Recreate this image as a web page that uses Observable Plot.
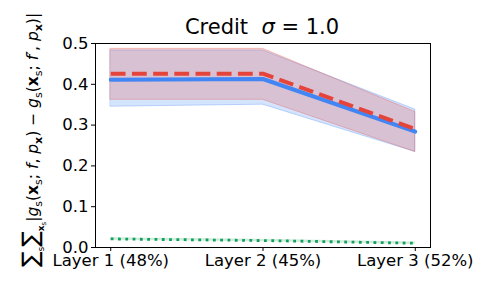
<!DOCTYPE html>
<html><head><meta charset="utf-8">
<script src="https://cdn.jsdelivr.net/npm/d3@7"></script>
<script src="https://cdn.jsdelivr.net/npm/@observablehq/plot@0.6"></script>
<style>body{margin:0;background:#fff}</style>
</head><body><div id="chart"></div>
<script>
const layers = ["Layer 1 (48%)", "Layer 2 (45%)", "Layer 3 (52%)"];
const xIdx = [0, 1, 2];
const blueMean = [0.411, 0.413, 0.284];
const blueLow  = [0.345, 0.350, 0.234];
const blueHigh = [0.483, 0.483, 0.338];
const redMean  = [0.426, 0.426, 0.290];
const redLow   = [0.362, 0.362, 0.234];
const redHigh  = [0.487, 0.487, 0.332];
const greenMean = [0.021, 0.017, 0.0105];
const yTicks = [0, 0.1, 0.2, 0.3, 0.4, 0.5];

const blue = "#4285f4", red = "#e5443a", green = "#12a05a";
const rows = xIdx.map((x, i) => ({x, bm: blueMean[i], bl: blueLow[i], bh: blueHigh[i],
  rm: redMean[i], rl: redLow[i], rh: redHigh[i], g: greenMean[i]}));

const chart = Plot.plot({
  width: 488, height: 293,
  marginLeft: 95, marginRight: 58, marginTop: 43, marginBottom: 46,
  style: {fontFamily: "DejaVu Sans", fontSize: "16.5px", color: "#000", background: "#fff"},
  x: {domain: [-0.1, 2.1], ticks: xIdx, tickFormat: i => layers[i], tickSize: 4, tickPadding: 3, label: null},
  y: {domain: [0, 0.5], ticks: yTicks, tickFormat: d3.format(".1f"), tickSize: 4, tickPadding: 3, label: null},
  marks: [
    Plot.areaY(rows, {x: "x", y1: "bl", y2: "bh", fill: blue, fillOpacity: 0.22, stroke: blue, strokeOpacity: 0.3, strokeWidth: 1}),
    Plot.areaY(rows, {x: "x", y1: "rl", y2: "rh", fill: red, fillOpacity: 0.22, stroke: red, strokeOpacity: 0.3, strokeWidth: 1}),
    Plot.areaY(rows, {x: "x", y1: d => d.g - 0.003, y2: d => d.g + 0.003, fill: green, fillOpacity: 0.2}),
    Plot.line(rows, {x: "x", y: "bm", stroke: blue, strokeWidth: 4}),
    Plot.line(rows, {x: "x", y: "rm", stroke: red, strokeWidth: 4, strokeDasharray: "14.8,6.4", strokeLinecap: "butt"}),
    Plot.line(rows, {x: "x", y: "g", stroke: green, strokeWidth: 2.8, strokeDasharray: "2.8,4.5", strokeLinecap: "butt"}),
    Plot.frame({stroke: "#000", strokeWidth: 1})
  ]
});
document.getElementById("chart").append(chart);

const svg = d3.select(chart);
// Title
const t = svg.append("text").attr("x", 262).attr("y", 34).attr("text-anchor", "middle")
  .attr("font-family", "DejaVu Sans").attr("font-size", 21).attr("fill", "#000");
t.append("tspan").text("Credit  ");
t.append("tspan").attr("font-style", "italic").text("σ");
t.append("tspan").text(" = 1.0");

// Y label
const yl = svg.append("text").attr("transform", "translate(38,267) rotate(-90)")
  .attr("text-anchor", "start").attr("font-family", "DejaVu Sans").attr("font-size", 15.5).attr("fill", "#000");
const parts = [
  ["∑", {size: 23}], ["s", {size: 9, dy: 6}],
  ["∑", {size: 23, dy: -6}], ["x", {size: 9, dy: 6, bold: 1}], ["s", {size: 7, dy: 2}],
  ["|", {dy: -8}], ["g", {it: 1}], ["s", {size: 11, dy: 4}], ["(", {dy: -4}],
  ["x", {bold: 1}], ["s", {size: 11, dy: 4}], ["; ", {dy: -4}], ["f", {it: 1}], [", ", {}],
  ["p", {it: 1}], ["x", {size: 11, dy: 4, bold: 1}], [") − ", {dy: -4}],
  ["g", {it: 1}], ["s", {size: 11, dy: 4}], ["(", {dy: -4}],
  ["x", {bold: 1}], ["s", {size: 11, dy: 4}], ["; ", {dy: -4}], ["f", {it: 1}], ["′", {size: 13, dy: -3, dx: 1}], [", ", {dy: 3}],
  ["p", {it: 1}], ["x", {size: 11, dy: 4, bold: 1}], [")|", {dy: -4}]
];
for (const [s, o] of parts) {
  const ts = yl.append("tspan").text(s);
  if (o.size) ts.attr("font-size", o.size);
  if (o.dy) ts.attr("dy", o.dy);
  if (o.dx) ts.attr("dx", o.dx);
  if (o.bold) ts.attr("font-weight", "bold");
  if (o.it) ts.attr("font-style", "italic");
}
</script>
</body></html>
